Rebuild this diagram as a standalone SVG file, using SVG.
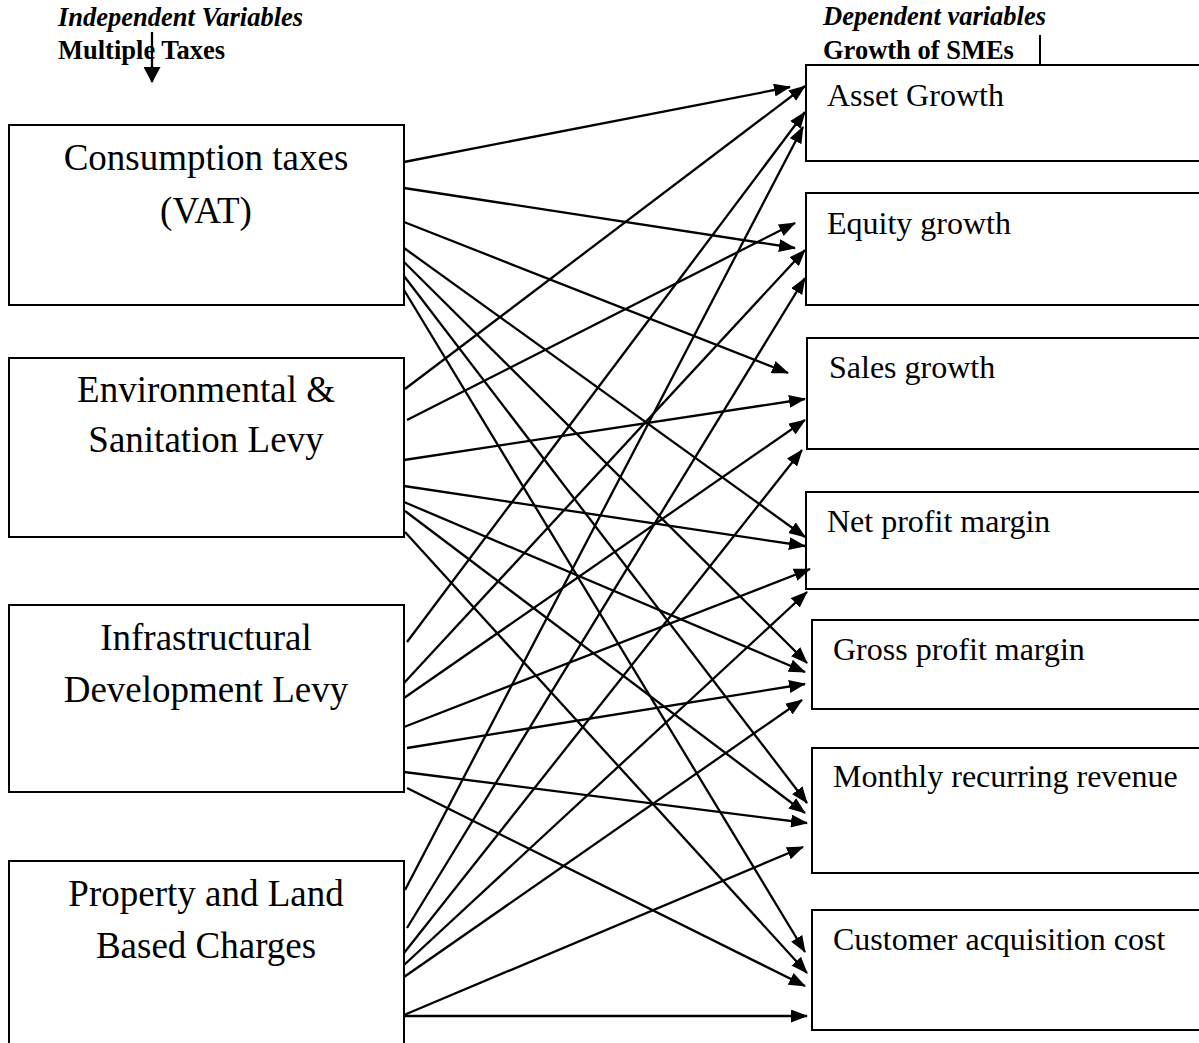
<svg xmlns="http://www.w3.org/2000/svg" width="1199" height="1043" viewBox="0 0 1199 1043">
<style>
.box{fill:#fff;stroke:#000;stroke-width:2}
.lt{font-family:"Liberation Serif","Times New Roman",serif;font-size:37px;fill:#000;text-anchor:middle}
.rt{font-family:"Liberation Serif","Times New Roman",serif;font-size:32px;fill:#000}
.hi{font-family:"Liberation Serif","Times New Roman",serif;font-size:26.5px;font-weight:bold;font-style:italic;fill:#000}
.hb{font-family:"Liberation Serif","Times New Roman",serif;font-size:26.5px;font-weight:bold;fill:#000}
.c line{stroke:#000;stroke-width:2.3;marker-end:url(#ah)}
</style>
<defs>
<marker id="ah" markerUnits="userSpaceOnUse" markerWidth="17" markerHeight="13" refX="16" refY="6.5" orient="auto">
<path d="M0,0 L17,6.5 L0,13 z" fill="#000"/>
</marker>
<marker id="ah2" markerUnits="userSpaceOnUse" markerWidth="16" markerHeight="17" refX="15" refY="8.5" orient="auto">
<path d="M0,0 L16,8.5 L0,17 z" fill="#000"/>
</marker>
</defs>
<rect width="1199" height="1043" fill="#fff"/>
<g id="header-left">
<text class="hi" x="58" y="26">Independent Variables</text>
<text class="hb" x="58" y="59">Multiple Taxes</text>
<line x1="152" y1="32" x2="152" y2="82" stroke="#000" stroke-width="2.3" marker-end="url(#ah2)"/>
</g>
<g id="header-right">
<text class="hi" x="823" y="25">Dependent variables</text>
<text class="hb" x="823" y="59">Growth of SMEs</text>
<line x1="1040" y1="35" x2="1040" y2="65" stroke="#000" stroke-width="2"/>
</g>
<g id="n-vat"><rect class="box" x="9" y="125" width="395" height="180"/>
<text class="lt" x="206" y="170">Consumption taxes</text><text class="lt" x="206" y="223">(VAT)</text></g>
<g id="n-env"><rect class="box" x="9" y="358" width="395" height="179"/>
<text class="lt" x="206" y="402">Environmental &amp;</text><text class="lt" x="206" y="452">Sanitation Levy</text></g>
<g id="n-infra"><rect class="box" x="9" y="605" width="395" height="187"/>
<text class="lt" x="206" y="650">Infrastructural</text><text class="lt" x="206" y="702">Development Levy</text></g>
<g id="n-prop"><rect class="box" x="9" y="861" width="395" height="200"/>
<text class="lt" x="206" y="906">Property and Land</text><text class="lt" x="206" y="958">Based Charges</text></g>
<g id="n-asset"><rect class="box" x="806" y="65" width="410" height="96"/><text class="rt" x="827" y="106">Asset Growth</text></g>
<g id="n-equity"><rect class="box" x="806" y="193" width="410" height="112"/><text class="rt" x="827" y="234">Equity growth</text></g>
<g id="n-sales"><rect class="box" x="807" y="338" width="410" height="111"/><text class="rt" x="829" y="378">Sales growth</text></g>
<g id="n-net"><rect class="box" x="806" y="492" width="410" height="97"/><text class="rt" x="827" y="532">Net profit margin</text></g>
<g id="n-gross"><rect class="box" x="812" y="620" width="410" height="89"/><text class="rt" x="833" y="660">Gross profit margin</text></g>
<g id="n-mrr"><rect class="box" x="812" y="748" width="410" height="125"/><text class="rt" x="833" y="787">Monthly recurring revenue</text></g>
<g id="n-cac"><rect class="box" x="812" y="910" width="410" height="120"/><text class="rt" x="833" y="950">Customer acquisition cost</text></g>
<g id="connectors" class="c">
<line x1="404" y1="162" x2="790" y2="87"/>
<line x1="404" y1="188" x2="795" y2="248"/>
<line x1="404" y1="222" x2="788" y2="373"/>
<line x1="404" y1="248" x2="805" y2="537"/>
<line x1="404" y1="262" x2="807" y2="663"/>
<line x1="404" y1="276" x2="807" y2="803"/>
<line x1="404" y1="290" x2="805" y2="952"/>
<line x1="405" y1="389" x2="805" y2="86"/>
<line x1="407" y1="420" x2="795" y2="223"/>
<line x1="404" y1="460" x2="805" y2="399"/>
<line x1="404" y1="486" x2="805" y2="546"/>
<line x1="404" y1="502" x2="805" y2="672"/>
<line x1="405" y1="511" x2="805" y2="813"/>
<line x1="405" y1="532" x2="807" y2="973"/>
<line x1="407" y1="642" x2="805" y2="112"/>
<line x1="404" y1="683" x2="805" y2="250"/>
<line x1="404" y1="698" x2="805" y2="420"/>
<line x1="404" y1="727" x2="810" y2="569"/>
<line x1="407" y1="748" x2="805" y2="684"/>
<line x1="404" y1="772" x2="807" y2="823"/>
<line x1="407" y1="788" x2="805" y2="986"/>
<line x1="405" y1="890" x2="803" y2="127"/>
<line x1="407" y1="928" x2="805" y2="278"/>
<line x1="404" y1="953" x2="802" y2="450"/>
<line x1="404" y1="965" x2="807" y2="592"/>
<line x1="404" y1="977" x2="802" y2="700"/>
<line x1="404" y1="1015" x2="803" y2="847"/>
<line x1="404" y1="1016" x2="807" y2="1016"/>
</g>
</svg>
